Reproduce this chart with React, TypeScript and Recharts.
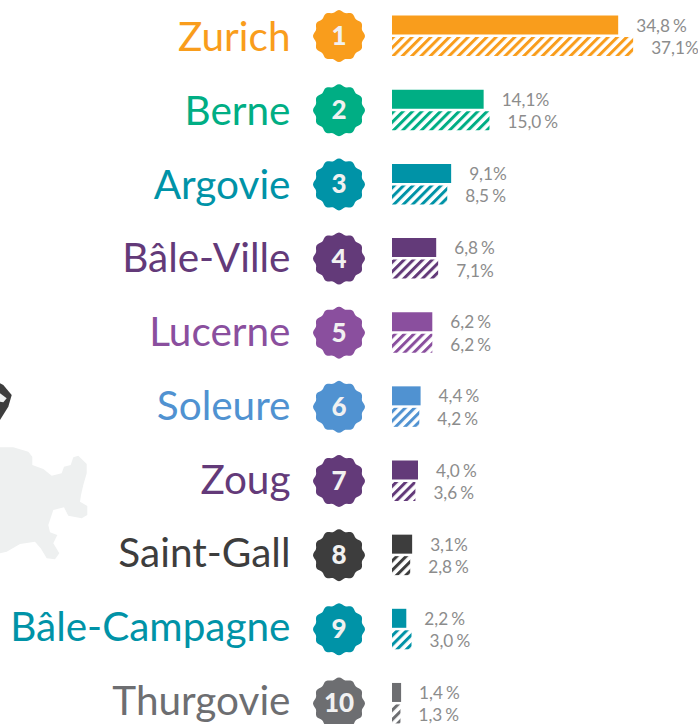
import React from "react";
import { BarChart, Bar, XAxis, YAxis, Cell, LabelList } from "recharts";

const cantons = ["Zurich", "Berne", "Argovie", "Bâle-Ville", "Lucerne", "Soleure", "Zoug", "Saint-Gall", "Bâle-Campagne", "Thurgovie"];
const solidValues = [34.8, 14.1, 9.1, 6.8, 6.2, 4.4, 4.0, 3.1, 2.2, 1.4];
const hatchedValues = [37.1, 15.0, 8.5, 7.1, 6.2, 4.2, 3.6, 2.8, 3.0, 1.3];
const colors = ["#F99D1C", "#00AE84", "#0093A7", "#633A79", "#8A4F9E", "#5092D1", "#633A79", "#3D3D3D", "#0093A7", "#6D6E71"];

const rows = cantons.map((name, i) => ({ name, rank: i + 1, solid: solidValues[i], hatched: hatchedValues[i] }));

const FONT = "Lato, 'Open Sans', sans-serif";

function scallopPath(cx: number, cy: number, r: number) {
  const n = 12;
  const pts: string[] = [];
  const steps = 96;
  for (let s = 0; s <= steps; s++) {
    const a = (s / steps) * Math.PI * 2 - Math.PI / 2;
    const rr = r - 1.1 + 1.1 * Math.cos(a * n + (Math.PI / 2) * n);
    pts.push(`${(cx + rr * Math.cos(a)).toFixed(2)},${(cy + rr * Math.sin(a)).toFixed(2)}`);
  }
  return "M" + pts.join("L") + "Z";
}

function CantonTick(props: any) {
  const { y, payload } = props;
  const i = cantons.indexOf(payload.value);
  const color = colors[i];
  return (
    <g>
      <text x={290.5} y={y} dy={15 - 0.4 * i} textAnchor="end" fontFamily={FONT} fontSize={40.5} fill={color}>
        {payload.value}
      </text>
      <path d={scallopPath(339, y, 26)} fill={color} />
      <text x={339} y={y} dy={9} textAnchor="middle" fontFamily={FONT} fontWeight={900} fontSize={26} fill="#F1F1F1">
        {i + 1}
      </text>
    </g>
  );
}

function ValueLabel(props: any) {
  const { x, y, width, height, value, lift } = props;
  const num = value.toFixed(1).replace(".", ",");
  const tight = num.endsWith("1");
  return (
    <text x={x + width + 18} y={y + height / 2} dy={lift} fontFamily={FONT} fontWeight={400} fontSize={17.2} fill="#8c8c8c">
      {num}
      <tspan dx={tight ? 0 : 2}>{tight ? "%" : "\u200a%"}</tspan>
    </text>
  );
}

const mapOutline = [[0,232],[40,232],[85,245],[97,260],[97,285],[130,297],[155,317],[185,310],[192,290],[212,285],[220,262],[235,257],[260,282],[260,310],[250,345],[243,375],[240,395],[262,408],[262,435],[245,445],[205,437],[192,412],[160,420],[145,465],[150,487],[172,495],[160,520],[178,550],[165,568],[140,565],[122,535],[105,515],[60,522],[20,545],[0,550]];
const mapDark = [[0,40],[10,45],[35,75],[25,110],[0,150]];
const mapHole = [[0,70],[20,85],[10,97],[0,95]];
const toPath = (p: number[][]) => "M" + p.map(([a, b]) => `${(a / 3).toFixed(1)},${(370 + b / 3).toFixed(1)}`).join("L") + "Z";

export default function App() {
  return (
    <div style={{ position: "fixed", left: 0, top: 0, width: 698, height: 724, overflow: "hidden", background: "#fff" }}>
      <svg width={120} height={724} style={{ position: "absolute", left: 0, top: 0 }}>
        <path d={toPath(mapOutline)} fill="#EEF0F0" />
        <path d={toPath(mapDark)} fill="#3D3D3D" />
        <path d={toPath(mapHole)} fill="#EEF0F0" />
      </svg>
      <div style={{ position: "absolute", left: 0, top: -1 }}>
        <BarChart
          width={698}
          height={741.5}
          data={rows}
          layout="vertical"
          margin={{ top: 0, right: 0, bottom: 0, left: 0 }}
          barGap={2.5}
          barCategoryGap={16.6}
          style={{ background: "transparent" }}
        >
          <defs>
            {colors.map((c, i) => (
              <pattern key={i} id={`hatch-${i}`} width={6.6} height={6.6} patternUnits="userSpaceOnUse" patternTransform="rotate(45)">
                <rect x={0} y={0} width={3} height={6.6} fill={c} />
              </pattern>
            ))}
          </defs>
          <XAxis type="number" hide domain={[0, 47.08]} />
          <YAxis
            type="category"
            dataKey="name"
            width={392}
            axisLine={false}
            tickLine={false}
            interval={0}
            tick={<CantonTick />}
          />
          <Bar dataKey="solid" isAnimationActive={false}>
            {rows.map((_, i) => (
              <Cell key={i} fill={colors[i]} />
            ))}
            <LabelList dataKey="solid" content={<ValueLabel lift={6.5} />} />
          </Bar>
          <Bar dataKey="hatched" isAnimationActive={false}>
            {rows.map((_, i) => (
              <Cell key={i} fill={`url(#hatch-${i})`} />
            ))}
            <LabelList dataKey="hatched" content={<ValueLabel lift={7.5} />} />
          </Bar>
        </BarChart>
      </div>
    </div>
  );
}
